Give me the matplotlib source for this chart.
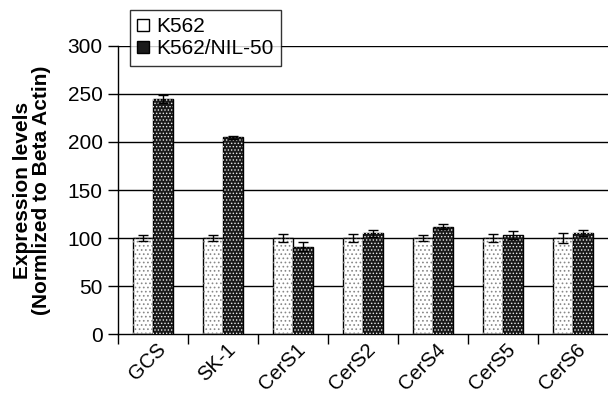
import matplotlib.pyplot as plt
import matplotlib.transforms as mtransforms
from matplotlib.patches import Patch
import numpy as np

plt.rcParams['font.family'] = ['Liberation Sans', 'DejaVu Sans']

genes = ["GCS", "SK-1", "CerS1", "CerS2", "CerS4", "CerS5", "CerS6"]
k562 = [100, 100, 100, 100, 100, 100, 100]
k562_err = [3, 3, 4, 4, 3, 4, 5]
nil50 = [245, 205, 91, 105, 112, 103, 105]
nil50_err = [4, 1.5, 5, 3.5, 3, 4, 3]

x = np.arange(len(genes))
w = 0.285

fig = plt.figure(figsize=(6.08, 4.03), dpi=100)
ax = fig.add_axes([0.194, 0.171, 0.806, 0.715])

# grid lines behind bars
for v in range(50, 301, 50):
    ax.axhline(v, color='black', lw=1, zorder=0)

ax.bar(x - w/2, k562, w, color='white', edgecolor='black', lw=1, zorder=2)
plt.rcParams['hatch.linewidth'] = 0.7
ax.bar(x - w/2, k562, w, fill=False, hatch='....', edgecolor='#888888', lw=0, zorder=3)
ax.bar(x + w/2, nil50, w, color='#1a1a1a', edgecolor='black', lw=1, zorder=2)
plt.rcParams['hatch.linewidth'] = 0.6
ax.bar(x + w/2, nil50, w, fill=False, hatch='.....', edgecolor='#e8e8e8', lw=0, zorder=3)

ax.errorbar(x - w/2, k562, yerr=k562_err, fmt='none', ecolor='black', elinewidth=1, capsize=3.3, capthick=1, zorder=4)
ax.errorbar(x + w/2, nil50, yerr=nil50_err, fmt='none', ecolor='black', elinewidth=1, capsize=3.3, capthick=1, zorder=4)

ax.set_xlim(-0.5, 6.5)
ax.set_ylim(0, 300)
ax.set_yticks(range(0, 301, 50))
ax.tick_params(axis='y', labelsize=15, length=7, width=1, pad=4, direction='out')
ax.set_xticks(np.arange(-0.5, 6.5, 1))
ax.set_xticklabels([])
ax.tick_params(axis='x', which='major', length=7, width=1, direction='out')
ax.set_xticks(x, minor=True)
ax.set_xticklabels(genes, minor=True, rotation=45, ha='right', va='top', rotation_mode='anchor', fontsize=14.5)
ax.tick_params(axis='x', which='minor', length=0, pad=4)
shift = mtransforms.ScaledTranslation(0.03, 0, fig.dpi_scale_trans)
for lbl in ax.get_xticklabels(minor=True):
    lbl.set_transform(lbl.get_transform() + shift)

ax.spines['top'].set_visible(False)
ax.spines['right'].set_visible(False)
ax.spines['left'].set_linewidth(1)
ax.spines['bottom'].set_linewidth(1)

ax.set_ylabel('Expression levels\n(Normlized to Beta Actin)', fontsize=15, fontweight='bold', labelpad=12, linespacing=1.0)

# legend proxies
h1 = Patch(facecolor='white', edgecolor='black', lw=1)
h2 = Patch(facecolor='#1a1a1a', edgecolor='black', lw=1)
leg = fig.legend([h1, h2], ['K562', 'K562/NIL-50'], loc='upper left',
                 bbox_to_anchor=(130/608, 1 - 10/403), bbox_transform=fig.transFigure,
                 borderaxespad=0, frameon=True, fancybox=False,
                 edgecolor='black', fontsize=15, handlelength=0.55, handleheight=0.55,
                 handletextpad=0.35, borderpad=0.35, labelspacing=0.15)
leg.get_frame().set_linewidth(1)
leg.set_zorder(5)

fig.savefig('out.png', dpi=100)
